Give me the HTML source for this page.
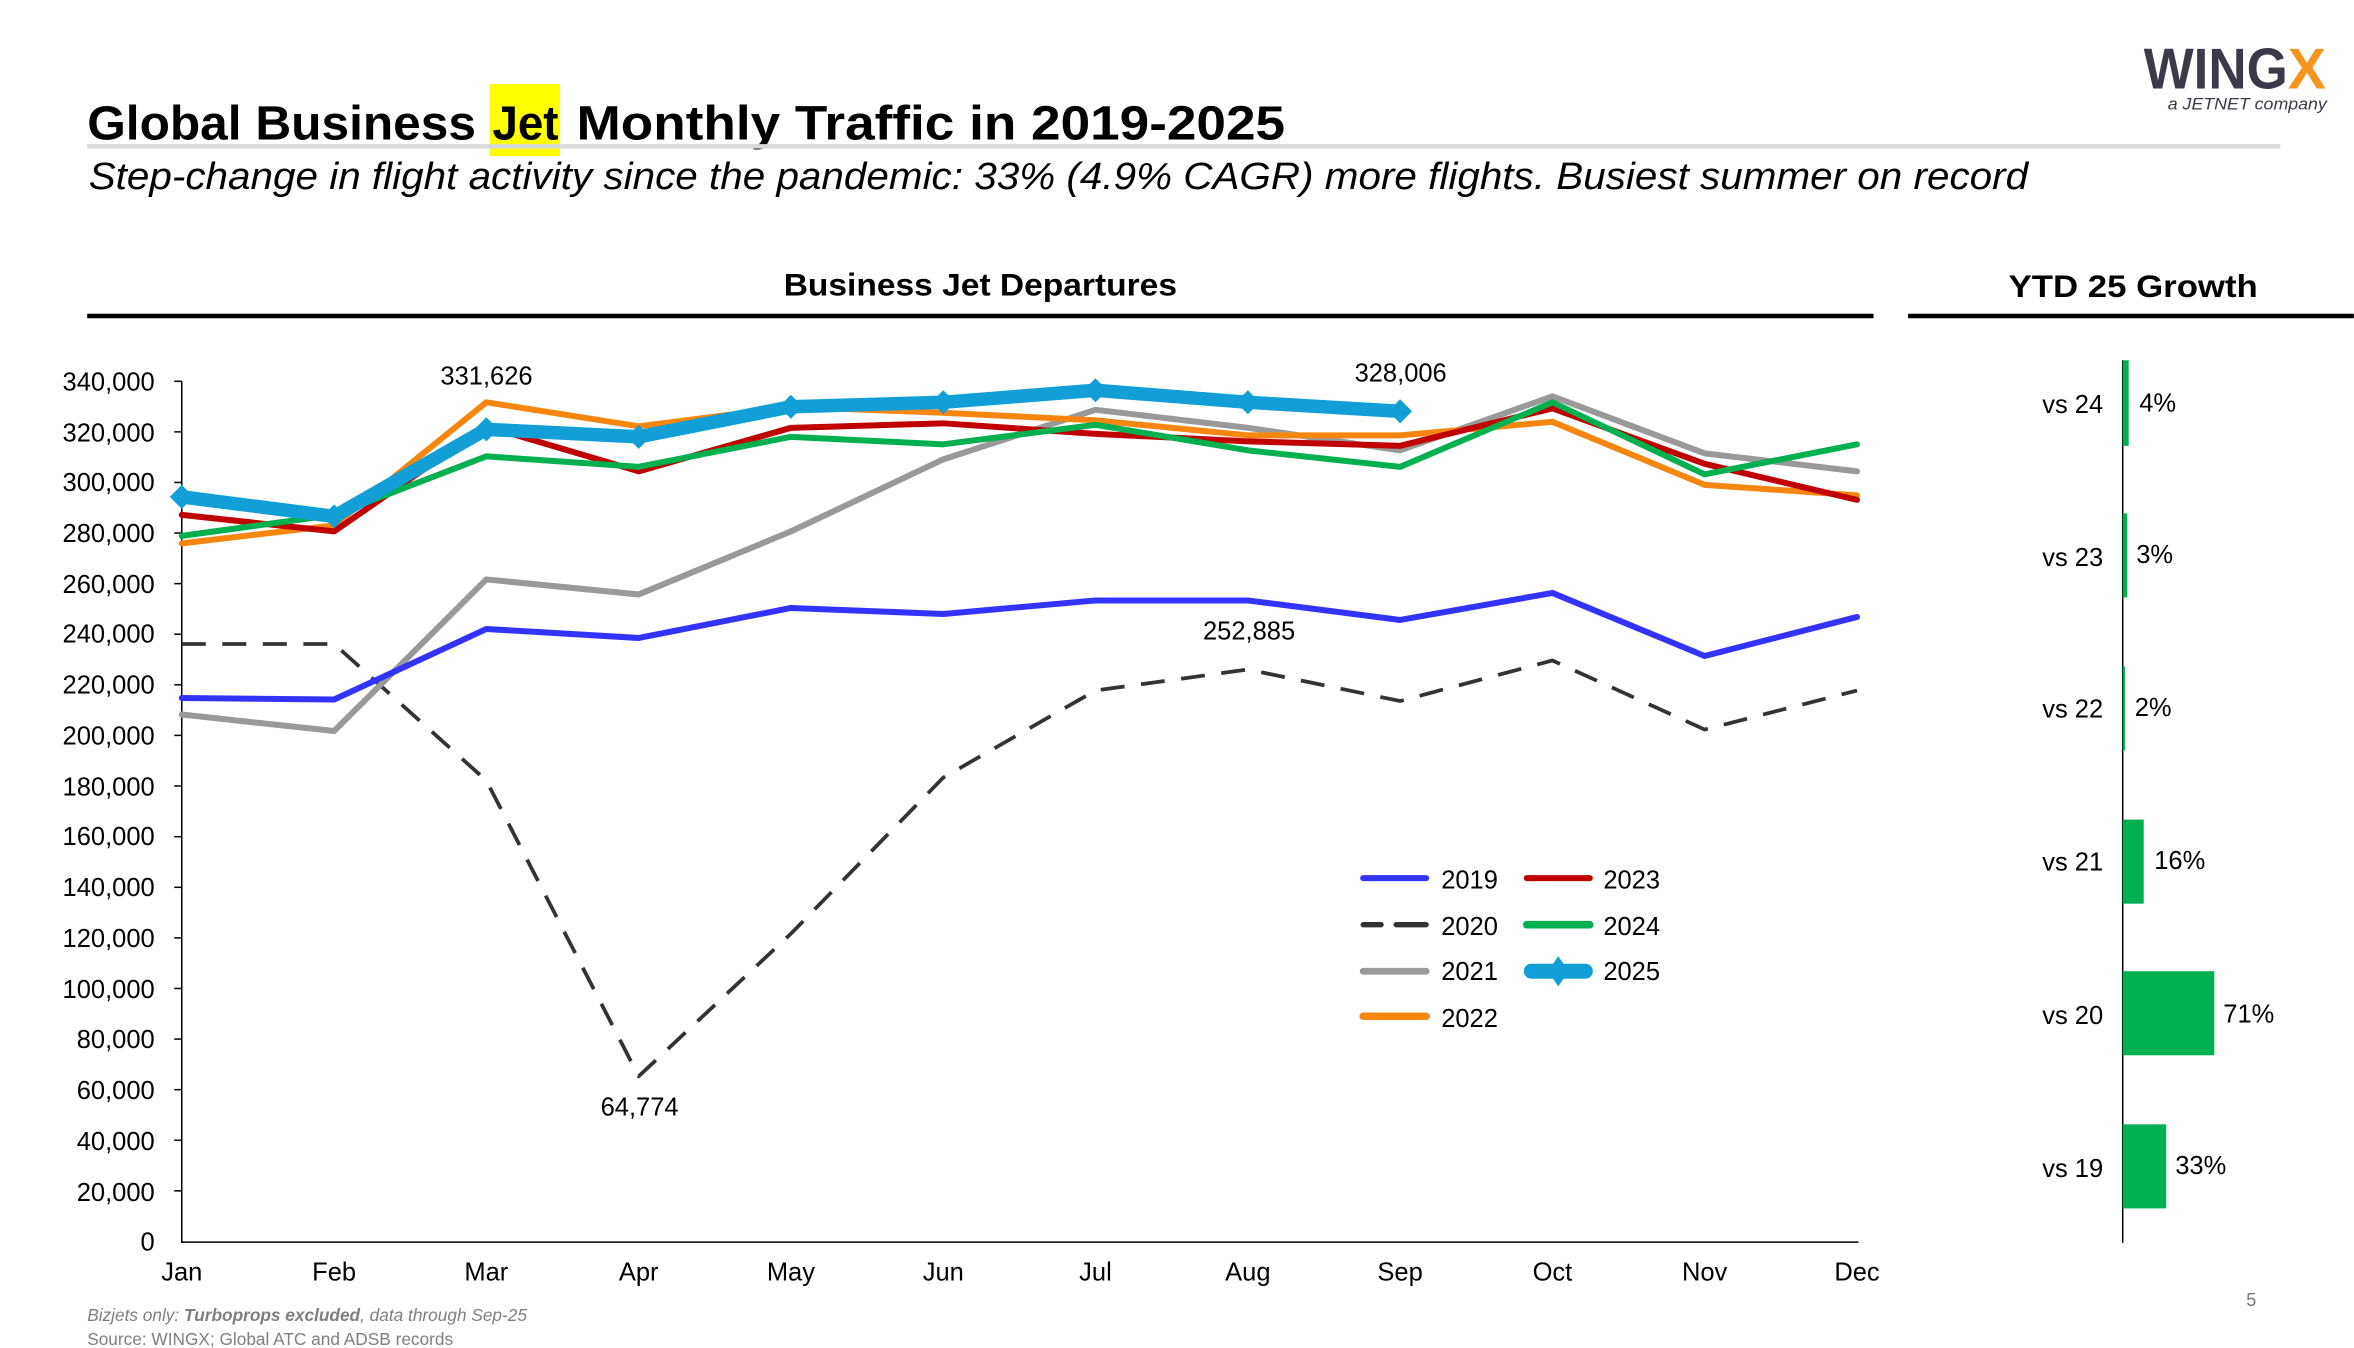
<!DOCTYPE html>
<html><head><meta charset="utf-8"><style>
html,body{margin:0;padding:0;background:#fff;}
svg{display:block;}
text{font-family:"Liberation Sans",sans-serif;}
</style></head><body>
<svg width="2354" height="1348" viewBox="0 0 1568 898" xmlns="http://www.w3.org/2000/svg">
<rect width="1568" height="898" fill="#fff"/>
<!-- logo -->
<text x="1428" y="59" font-size="38" font-weight="bold" fill="#3a3a48" textLength="96" lengthAdjust="spacingAndGlyphs">WING</text>
<text x="1524" y="59" font-size="38" font-weight="bold" fill="#f7941d">X</text>
<text x="1444" y="73" font-size="11" font-style="italic" fill="#3a3a48" textLength="106" lengthAdjust="spacingAndGlyphs">a JETNET company</text>
<!-- title -->
<rect x="326" y="56" width="47" height="48" fill="#ffff00"/>
<text x="58" y="93" font-size="32" font-weight="bold" fill="#000" textLength="259" lengthAdjust="spacingAndGlyphs">Global Business</text>
<text x="328" y="93" font-size="32" font-weight="bold" fill="#000" textLength="44" lengthAdjust="spacingAndGlyphs">Jet</text>
<text x="384" y="93" font-size="32" font-weight="bold" fill="#000" textLength="472" lengthAdjust="spacingAndGlyphs">Monthly Traffic in 2019-2025</text>
<rect x="58" y="96" width="1461" height="3" fill="#d9d9d9"/>
<text x="59" y="126" font-size="25" font-style="italic" fill="#000" textLength="1292" lengthAdjust="spacingAndGlyphs">Step-change in flight activity since the pandemic: 33% (4.9% CAGR) more flights. Busiest summer on record</text>
<text x="653" y="197" font-size="21" font-weight="bold" text-anchor="middle" textLength="262" lengthAdjust="spacingAndGlyphs">Business Jet Departures</text>
<text x="1421" y="198" font-size="21" font-weight="bold" text-anchor="middle" textLength="166" lengthAdjust="spacingAndGlyphs">YTD 25 Growth</text>
<rect x="58" y="209" width="1190" height="3" fill="#000"/>
<rect x="1271" y="209" width="297" height="3" fill="#000"/>
<!-- axes -->
<g stroke="#000" stroke-width="1">
<line x1="121" y1="254" x2="121" y2="828"/>
<line x1="121" y1="827.5" x2="1238" y2="827.5"/>
<line x1="1414" y1="240" x2="1414" y2="828"/>
</g>
<g stroke="#000" stroke-width="1">
<line x1="116" y1="254" x2="121" y2="254"/><line x1="116" y1="287.7" x2="121" y2="287.7"/><line x1="116" y1="321.4" x2="121" y2="321.4"/><line x1="116" y1="355.1" x2="121" y2="355.1"/><line x1="116" y1="388.8" x2="121" y2="388.8"/><line x1="116" y1="422.5" x2="121" y2="422.5"/><line x1="116" y1="456.2" x2="121" y2="456.2"/><line x1="116" y1="489.9" x2="121" y2="489.9"/><line x1="116" y1="523.6" x2="121" y2="523.6"/><line x1="116" y1="557.4" x2="121" y2="557.4"/><line x1="116" y1="591.1" x2="121" y2="591.1"/><line x1="116" y1="624.8" x2="121" y2="624.8"/><line x1="116" y1="658.5" x2="121" y2="658.5"/><line x1="116" y1="692.2" x2="121" y2="692.2"/><line x1="116" y1="725.9" x2="121" y2="725.9"/><line x1="116" y1="759.6" x2="121" y2="759.6"/><line x1="116" y1="793.3" x2="121" y2="793.3"/>
</g>
<g font-size="17" text-anchor="end" fill="#000">
<text x="103" y="260">340,000</text><text x="103" y="294">320,000</text><text x="103" y="327">300,000</text><text x="103" y="361">280,000</text><text x="103" y="395">260,000</text><text x="103" y="428">240,000</text><text x="103" y="462">220,000</text><text x="103" y="496">200,000</text><text x="103" y="530">180,000</text><text x="103" y="563">160,000</text><text x="103" y="597">140,000</text><text x="103" y="631">120,000</text><text x="103" y="665">100,000</text><text x="103" y="698">80,000</text><text x="103" y="732">60,000</text><text x="103" y="766">40,000</text><text x="103" y="800">20,000</text><text x="103" y="833">0</text>
</g>
<g font-size="17" text-anchor="middle" fill="#000">
<text x="121" y="853">Jan</text><text x="222.5" y="853">Feb</text><text x="323.9" y="853">Mar</text><text x="425.4" y="853">Apr</text><text x="526.8" y="853">May</text><text x="628.3" y="853">Jun</text><text x="729.7" y="853">Jul</text><text x="831.2" y="853">Aug</text><text x="932.6" y="853">Sep</text><text x="1034.1" y="853">Oct</text><text x="1135.5" y="853">Nov</text><text x="1237" y="853">Dec</text>
</g>
<!-- series -->
<g fill="none" stroke-linejoin="round" stroke-linecap="round">
<polyline stroke="#333333" stroke-width="2.5" stroke-dasharray="16,11" stroke-linecap="butt" points="121,429 222.5,429 323.9,520 425.4,717 526.8,622 628.3,518 729.7,460 831.2,446 932.6,467 1034.1,440 1135.5,486 1237,460"/>
<polyline stroke="#999999" stroke-width="4" points="121,476 222.5,487 323.9,386 425.4,396 526.8,354 628.3,306 729.7,273 831.2,285 932.6,300 1034.1,264 1135.5,302 1237,314"/>
<polyline stroke="#3333ff" stroke-width="4" points="121,465 222.5,466 323.9,419 425.4,425 526.8,405 628.3,409 729.7,400 831.2,400 932.6,413 1034.1,395 1135.5,437 1237,411"/>
<polyline stroke="#f7860f" stroke-width="4" points="121,362 222.5,350 323.9,268 425.4,284 526.8,271 628.3,275 729.7,280 831.2,290 932.6,290 1034.1,281 1135.5,323 1237,330"/>
<polyline stroke="#c00000" stroke-width="4" points="121,343 222.5,354 323.9,284 425.4,314 526.8,285 628.3,282 729.7,289 831.2,294 932.6,297 1034.1,272 1135.5,309 1237,333"/>
<polyline stroke="#00b050" stroke-width="4" points="121,357 222.5,343 323.9,304 425.4,311 526.8,291 628.3,296 729.7,283 831.2,300 932.6,311 1034.1,268 1135.5,316 1237,296"/>
<polyline stroke="#119fd6" stroke-width="9" points="121,331 222.5,344 323.9,286 425.4,291 526.8,271 628.3,268 729.7,260 831.2,268 932.6,274"/>
</g>
<g fill="#119fd6">
<path d="M121,323 l8,8 -8,8 -8,-8z"/><path d="M222.5,336 l8,8 -8,8 -8,-8z"/><path d="M323.9,278 l8,8 -8,8 -8,-8z"/><path d="M425.4,283 l8,8 -8,8 -8,-8z"/><path d="M526.8,263 l8,8 -8,8 -8,-8z"/><path d="M628.3,260 l8,8 -8,8 -8,-8z"/><path d="M729.7,252 l8,8 -8,8 -8,-8z"/><path d="M831.2,260 l8,8 -8,8 -8,-8z"/><path d="M932.6,266 l8,8 -8,8 -8,-8z"/>
</g>
<g font-size="17" text-anchor="middle" fill="#000">
<text x="324" y="256">331,626</text><text x="933" y="254">328,006</text><text x="832" y="426">252,885</text><text x="426" y="743">64,774</text>
</g>
<!-- legend -->
<g stroke-linecap="round" fill="none">
<line x1="908" y1="585" x2="950" y2="585" stroke="#3333ff" stroke-width="4"/>
<line x1="908" y1="616" x2="920" y2="616" stroke="#333" stroke-width="3.5"/><line x1="930" y1="616" x2="950" y2="616" stroke="#333" stroke-width="3.5"/>
<line x1="908" y1="647" x2="950" y2="647" stroke="#999" stroke-width="4.5"/>
<line x1="908" y1="677" x2="950" y2="677" stroke="#f7860f" stroke-width="5"/>
<line x1="1017" y1="585" x2="1059" y2="585" stroke="#c00000" stroke-width="4"/>
<line x1="1017" y1="616" x2="1059" y2="616" stroke="#00b050" stroke-width="5"/>
<line x1="1020" y1="647" x2="1056" y2="647" stroke="#119fd6" stroke-width="10"/>
</g>
<path d="M1038,637 l7,10 -7,10 -7,-10z" fill="#119fd6"/>
<g font-size="17" fill="#000">
<text x="960" y="592">2019</text><text x="960" y="623">2020</text><text x="960" y="653">2021</text><text x="960" y="684">2022</text>
<text x="1068" y="592">2023</text><text x="1068" y="623">2024</text><text x="1068" y="653">2025</text>
</g>
<!-- bars -->
<g fill="#00b050">
<rect x="1414" y="240" width="4" height="57"/>
<rect x="1414" y="342" width="3" height="56"/>
<rect x="1414" y="444" width="1.5" height="56"/>
<rect x="1414" y="546" width="14" height="56"/>
<rect x="1414" y="647" width="61" height="56"/>
<rect x="1414" y="749" width="29" height="56"/>
</g>
<g font-size="17" fill="#000">
<text x="1401" y="275" text-anchor="end">vs 24</text><text x="1401" y="377" text-anchor="end">vs 23</text><text x="1401" y="478" text-anchor="end">vs 22</text><text x="1401" y="580" text-anchor="end">vs 21</text><text x="1401" y="682" text-anchor="end">vs 20</text><text x="1401" y="784" text-anchor="end">vs 19</text>
<text x="1425" y="274">4%</text><text x="1423" y="375">3%</text><text x="1422" y="477">2%</text><text x="1435" y="579">16%</text><text x="1481" y="681">71%</text><text x="1449" y="782">33%</text>
</g>
<text x="1503" y="870" font-size="12" fill="#777" text-anchor="end">5</text>
<text x="58" y="880" font-size="11.5" font-style="italic" fill="#7f7f7f">Bizjets only: <tspan font-weight="bold">Turboprops excluded</tspan>, data through Sep-25</text>
<text x="58" y="896" font-size="11.5" fill="#7f7f7f">Source: WINGX; Global ATC and ADSB records</text>
</svg>
</body></html>
